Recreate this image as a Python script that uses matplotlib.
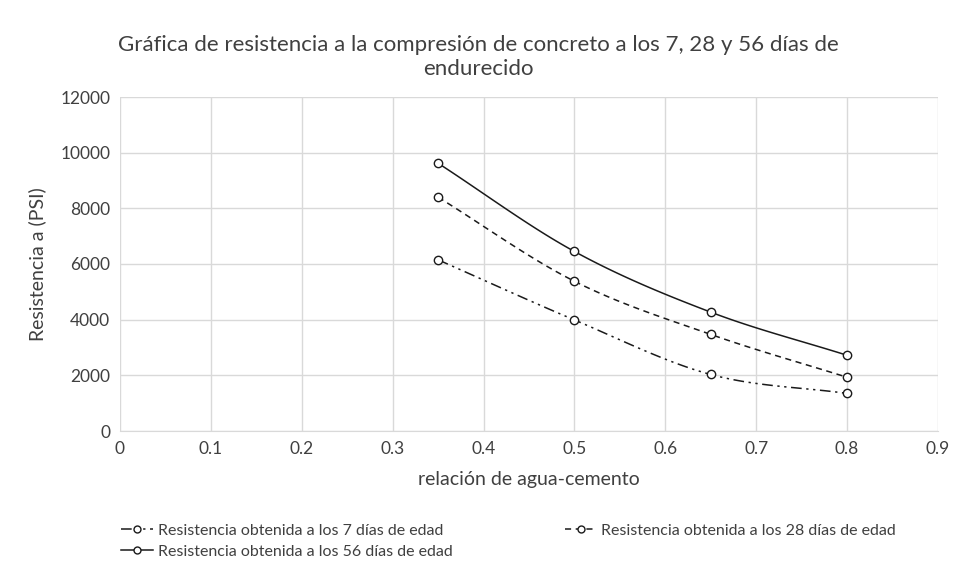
import numpy as np
import matplotlib.pyplot as plt

# relación agua-cemento
relacion = [0.35, 0.5, 0.65, 0.8]
# resistencia (PSI)
dias_7 = [6150, 3990, 2030, 1350]
dias_28 = [8400, 5380, 3470, 1930]
dias_56 = [9620, 6450, 4270, 2720]

etiquetas = ['Resistencia obtenida a los 7 días de edad',
             'Resistencia obtenida a los 28 días de edad',
             'Resistencia obtenida a los 56 días de edad']

plt.rcParams['font.family'] = ['Lato', 'DejaVu Sans']


def suavizar(x, y, n=30):
    # curva tipo Catmull-Rom (como la linea suavizada de Excel)
    x = np.asarray(x, float)
    y = np.asarray(y, float)
    px = np.concatenate([[2 * x[0] - x[1]], x, [2 * x[-1] - x[-2]]])
    py = np.concatenate([[2 * y[0] - y[1]], y, [2 * y[-1] - y[-2]]])
    xs, ys = [], []
    t = np.linspace(0, 1, n)
    for i in range(1, len(px) - 2):
        for p, out in ((px, xs), (py, ys)):
            p0, p1, p2, p3 = p[i - 1], p[i], p[i + 1], p[i + 2]
            out.extend(0.5 * ((2 * p1) + (-p0 + p2) * t
                              + (2 * p0 - 5 * p1 + 4 * p2 - p3) * t ** 2
                              + (-p0 + 3 * p1 - 3 * p2 + p3) * t ** 3))
    return xs, ys


fig = plt.figure(figsize=(9.57, 5.75), dpi=100)
ax = fig.add_axes([120 / 957, 1 - 431 / 575, 818 / 957, 334 / 575])

estilos = [(0, (7, 3, 1.5, 3, 1.5, 3)), (0, (4, 3)), '-']
handles = []
for serie, ls, lab in zip([dias_7, dias_28, dias_56], estilos, etiquetas):
    sx, sy = suavizar(relacion, serie)
    ax.plot(sx, sy, color='#1a1a1a', lw=1.1, ls=ls)
    ax.plot(relacion, serie, ls='none', marker='o', ms=6, mfc='white',
            mec='#1a1a1a', mew=1.0)
    h, = ax.plot([], [], color='#1a1a1a', lw=1.1, ls=ls, marker='o', ms=5,
                 mfc='white', mec='#1a1a1a', mew=1.0)
    handles.append(h)

ax.set_xlim(0, 0.9)
ax.set_ylim(0, 12000)
ax.set_xticks(np.arange(0, 0.91, 0.1))
ax.set_xticklabels(['0', '0.1', '0.2', '0.3', '0.4', '0.5', '0.6', '0.7', '0.8', '0.9'])
ax.set_yticks(np.arange(0, 12001, 2000))
ax.grid(True, color='#d9d9d9', lw=1)
ax.set_axisbelow(True)
for s in ['top', 'right', 'left']:
    ax.spines[s].set_visible(False)
ax.spines['bottom'].set_color('#d9d9d9')
ax.tick_params(length=0, labelsize=12.5, colors='#404040', pad=7)

ax.set_xlabel('relación de agua-cemento', fontsize=14, color='#404040', labelpad=10)
ax.set_ylabel('Resistencia a (PSI)', fontsize=14, color='#404040', labelpad=10)

fig.text(0.5, 1 - 57 / 575,
         'Gráfica de resistencia a la compresión de concreto a los 7, 28 y 56 días de\nendurecido',
         ha='center', va='center', fontsize=16, color='#404040', linespacing=1.2)

leg = fig.legend([handles[0], handles[2], handles[1]],
                 [etiquetas[0], etiquetas[2], etiquetas[1]],
                 ncol=2, loc='upper left', bbox_to_anchor=(115 / 957, 1 - 517 / 575),
                 frameon=False, fontsize=11.5, handlelength=2.0, handletextpad=0.3,
                 columnspacing=7.0, labelspacing=0.45, borderaxespad=0)
for t in leg.get_texts():
    t.set_color('#404040')

fig.savefig('out.png', dpi=100)
